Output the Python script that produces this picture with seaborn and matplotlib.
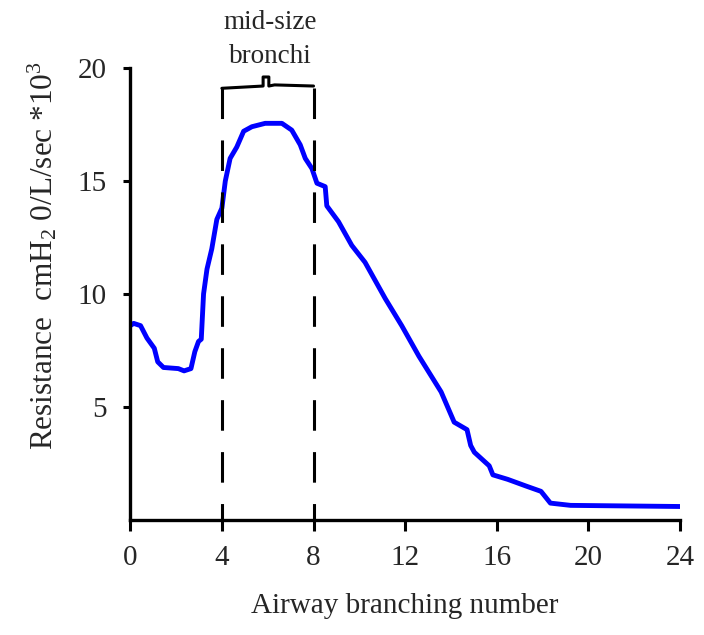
import matplotlib
matplotlib.use("Agg")
import matplotlib.pyplot as plt
import seaborn as sns
import pandas as pd

# airway generation vs. resistance
generation = [0, 0.15, 0.45, 0.73, 1.05, 1.2, 1.45, 2.1, 2.35, 2.65, 2.82, 2.98, 3.1,
              3.2, 3.35, 3.56, 3.78, 4.0, 4.15, 4.36, 4.65, 4.95, 5.31, 5.89, 6.62,
              7.05, 7.42, 7.64, 7.93, 8.15, 8.51, 8.58, 9.09, 9.67, 10.25, 11.13,
              11.85, 12.6, 13.57, 14.14, 14.7, 14.86, 15.02, 15.67, 15.83, 16.48,
              17.29, 17.93, 18.34, 19.22, 24.0]
resistance = [8.6, 8.7, 8.6, 8.05, 7.6, 7.0, 6.75, 6.7, 6.6, 6.7, 7.45, 7.9, 8.0,
              10.0, 11.1, 12.0, 13.3, 13.8, 15.0, 16.0, 16.5, 17.2, 17.4, 17.55, 17.55,
              17.25, 16.6, 16.0, 15.55, 14.9, 14.75, 13.9, 13.2, 12.15, 11.4, 9.8,
              8.6, 7.25, 5.67, 4.33, 4.0, 3.3, 3.0, 2.4, 2.0, 1.8,
              1.5, 1.27, 0.75, 0.65, 0.6]

bracket_left, bracket_right = 4, 8
bracket_top = 19.1
bracket_x = [4, 5.8, 5.8, 6.05, 6.05, 6.3, 8]
bracket_y = [19.1, 19.2, 19.6, 19.6, 19.2, 19.25, 19.2]

x_ticks = [0, 4, 8, 12, 16, 20, 24]
y_ticks = [5, 10, 15, 20]

df = pd.DataFrame({"gen": generation, "res": resistance})

sns.set_style("ticks")
plt.rcParams["font.family"] = ["Liberation Serif", "DejaVu Serif"]
plt.rcParams["mathtext.fontset"] = "custom"
plt.rcParams["mathtext.rm"] = "Liberation Serif"
plt.rcParams["mathtext.it"] = "Liberation Serif"

fig = plt.figure(figsize=(7.04, 6.35), dpi=100)
ax = fig.add_axes([0.185, 0.181, 0.781, 0.712])

sns.lineplot(data=df, x="gen", y="res", color="#0000ff", linewidth=3.5, ax=ax)

# dashed guides marking the mid-size bronchi
for xv in [bracket_left, bracket_right]:
    ax.plot([xv, xv], [bracket_top, 0], color="black", linewidth=2.2,
            dashes=(10, 7), clip_on=False)
ax.plot(bracket_x, bracket_y, color="black", linewidth=2.2, clip_on=False)
ax.text(6.1, 21.25, "mid-size\nbronchi", ha="center", va="center",
        fontsize=19.5, linespacing=1.45, clip_on=False)

ax.set_xlim(0, 24)
ax.set_ylim(0, 20)
ax.set_xticks(x_ticks)
ax.set_yticks(y_ticks)
ax.tick_params(axis="x", length=8, width=2.2, labelsize=21, pad=10, color="black")
ax.tick_params(axis="y", length=5, width=2.2, labelsize=21, pad=12, color="black")
ax.set_xlabel("Airway branching number", fontsize=21, labelpad=16)
ax.set_ylabel(r"Resistance  cmH$_2$ 0/L/sec *10$^3$", fontsize=22.5)
ax.yaxis.set_label_coords(-0.128, 0.585)
sns.despine(ax=ax)
for s in ["left", "bottom"]:
    ax.spines[s].set_linewidth(2.4)
    ax.spines[s].set_color("black")

fig.savefig("out.png", dpi=100)
